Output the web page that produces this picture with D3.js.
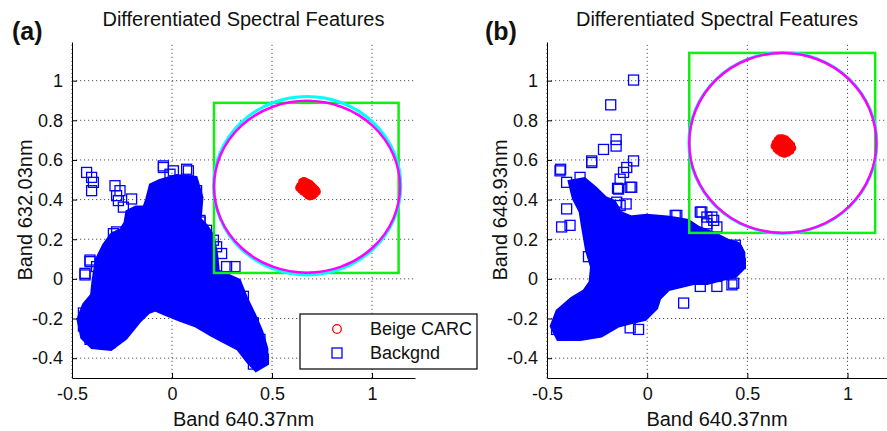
<!DOCTYPE html>
<html>
<head>
<meta charset="utf-8">
<script src="https://cdnjs.cloudflare.com/ajax/libs/d3/7.8.5/d3.min.js"></script>
<style>
body{margin:0;background:#fff;}
svg text{font-family:"Liberation Sans",Arial,Helvetica,sans-serif;fill:#111;}
</style>
</head>
<body>
<svg id="fig" width="887" height="431"></svg>
<script>

//================= data =====================//
var xTicks = [-0.5, 0, 0.5, 1];
var yTicks = [-0.4, -0.2, 0, 0.2, 0.4, 0.6, 0.8, 1];
var titleText = "Differentiated Spectral Features";
var xLabelText = "Band 640.37nm";
var yLabelA = "Band 632.03nm";
var yLabelB = "Band 648.93nm";
var legendNames = ["Beige CARC", "Backgnd"];

// dense background cloud outline (a), square centres
var bgCoreA = [[-0.06,0.478],[0.023,0.503],[0.107,0.495],[0.132,0.41],[0.123,0.295],[0.157,0.26],[0.19,0.21],
  [0.207,0.11],[0.215,0.028],[0.257,0.01],[0.323,-0.02],[0.357,-0.105],[0.398,-0.19],[0.432,-0.27],[0.457,-0.355],
  [0.457,-0.42],[0.423,-0.44],[0.39,-0.405],[0.34,-0.34],[0.273,-0.305],[0.207,-0.27],[0.123,-0.22],[0.04,-0.19],
  [-0.027,-0.163],[-0.085,-0.138],[-0.127,-0.155],[-0.177,-0.205],[-0.243,-0.288],[-0.31,-0.338],[-0.393,-0.33],
  [-0.435,-0.288],[-0.452,-0.205],[-0.427,-0.138],[-0.385,-0.088],[-0.377,-0.005],[-0.36,0.095],[-0.327,0.162],
  [-0.293,0.21],[-0.243,0.237],[-0.218,0.278],[-0.21,0.328],[-0.177,0.345],[-0.127,0.345],[-0.11,0.395],[-0.093,0.462]];

// single background squares (a)
var bgSquaresA = [[-0.427,0.537],[-0.402,0.512],[-0.393,0.487],[-0.402,0.445],[-0.285,0.47],[-0.26,0.445],
  [-0.277,0.42],[-0.268,0.395],[-0.243,0.362],[-0.202,0.403],[-0.043,0.57],[0.007,0.545],[0.082,0.545],
  [-0.435,0.028],[-0.41,0.087],[-0.277,0.21],[-0.26,0.18],[-0.285,0.13],[0.14,0.287],[0.148,0.245],[0.207,0.195],
  [-0.377,-0.072],[0.223,0.162],[0.248,0.128],[0.273,0.062],[0.315,0.062],[0.357,-0.088],[0.407,-0.222],
  [0.44,-0.305],[0.457,-0.405],[0.407,-0.43],[0.357,-0.238],[0.29,-0.272],[-0.41,-0.305],[-0.36,-0.313],
  [-0.31,-0.322],[-0.443,-0.238],[-0.443,-0.172],[-0.435,0.02],[-0.41,0.095],[-0.377,0.062],[-0.293,0.228],
  [-0.277,0.237],[-0.043,0.562],[0.073,0.553],[-0.01,0.528],[0.123,0.445],[0.14,0.295],[0.173,0.245],[0.19,0.128]];

// dense background cloud outline (b), square centres
var bgCoreB = [[-0.368,0.478],[-0.318,0.487],[-0.268,0.445],[-0.218,0.395],[-0.177,0.378],[-0.143,0.32],
  [-0.085,0.295],[-0.002,0.303],[0.098,0.295],[0.148,0.287],[0.198,0.278],[0.248,0.245],[0.332,0.212],
  [0.398,0.178],[0.448,0.162],[0.465,0.128],[0.465,0.062],[0.432,0.028],[0.365,0.012],[0.298,-0.005],
  [0.232,-0.005],[0.165,-0.022],[0.098,-0.038],[0.048,-0.088],[0.032,-0.138],[-0.018,-0.188],[-0.085,-0.205],
  [-0.152,-0.222],[-0.235,-0.272],[-0.335,-0.288],[-0.435,-0.288],[-0.46,-0.238],[-0.435,-0.172],[-0.368,-0.113],
  [-0.302,-0.072],[-0.268,-0.022],[-0.26,0.062],[-0.285,0.145],[-0.302,0.245],[-0.318,0.345],[-0.352,0.412]];

// single background squares (b)
var bgSquaresB = [[-0.068,1.003],[-0.182,0.878],[-0.155,0.703],[-0.155,0.67],[-0.218,0.653],[-0.277,0.595],
  [-0.068,0.595],[-0.102,0.562],[-0.118,0.537],[-0.135,0.503],[-0.077,0.462],[-0.148,0.457],[-0.432,0.553],
  [-0.402,0.487],[-0.335,0.512],[-0.152,0.387],[-0.105,0.378],[-0.402,0.353],[-0.427,0.262],[-0.385,0.27],
  [-0.293,0.112],[0.14,0.32],[0.273,0.337],[0.323,0.312],[0.298,0.278],[0.44,0.17],[0.465,0.078],[0.348,-0.038],
  [0.182,-0.122],[0.432,-0.022],[0.265,-0.038],[-0.085,-0.247],[-0.043,-0.255],[-0.435,0.545],[-0.277,0.587],
  [-0.452,-0.255],[-0.135,0.37],[-0.085,0.462],[-0.143,0.453],[0.148,0.32],[0.265,0.337],[0.298,0.312],
  [0.332,0.295],[0.348,0.262],[0.423,0.162],[0.423,-0.03]];

// Beige CARC points
var carcA = [[0.64,0.47],[0.65,0.49],[0.66,0.495],[0.67,0.49],[0.68,0.485],[0.69,0.48],[0.70,0.47],[0.71,0.46],
  [0.72,0.45],[0.725,0.44],[0.715,0.43],[0.705,0.42],[0.69,0.415],[0.68,0.42],[0.67,0.43],[0.655,0.44],[0.645,0.45],
  [0.635,0.46],[0.65,0.465],[0.66,0.46],[0.67,0.455],[0.68,0.45],[0.69,0.445],[0.70,0.44],[0.66,0.475],[0.675,0.47],
  [0.69,0.465],[0.705,0.455],[0.695,0.43],[0.715,0.445],[0.685,0.435],[0.665,0.445]];
var carcB = [[0.64,0.685],[0.65,0.7],[0.66,0.71],[0.675,0.71],[0.69,0.705],[0.70,0.695],[0.71,0.685],[0.72,0.675],
  [0.725,0.66],[0.715,0.645],[0.70,0.635],[0.685,0.63],[0.67,0.635],[0.655,0.645],[0.645,0.655],[0.635,0.67],
  [0.65,0.68],[0.66,0.675],[0.67,0.67],[0.68,0.665],[0.69,0.66],[0.70,0.655],[0.66,0.69],[0.675,0.69],[0.69,0.685],
  [0.705,0.675],[0.695,0.645],[0.68,0.65],[0.665,0.655],[0.71,0.665]];

// decision boxes [x0, y0, x1, y1] and circles [cx, cy, rx, ry]
var boxA = [0.21, 0.03, 1.133, 0.888];
var boxB = [0.21, 0.232, 1.138, 1.14];
var cyanA = [0.676, 0.47, 0.468, 0.45];
var circA = [0.675, 0.465, 0.465, 0.434];
var cyanB = [0.677, 0.686, 0.469, 0.456];
var circB = [0.677, 0.686, 0.467, 0.454];

var svg = d3.select("#fig");

function drawPanel(opt){

  var x = d3.scaleLinear().domain([-0.5, opt.xMax]).range([opt.left, opt.right]);
  var y = d3.scaleLinear().domain([-0.5, 1.195]).range([378, 42]);
  var g = svg.append("g");

  //================= grid
  g.append("g").selectAll("line").data(yTicks).enter().append("line")
    .attr("x1", opt.left).attr("x2", opt.right)
    .attr("y1", function(d){ return y(d); }).attr("y2", function(d){ return y(d); })
    .attr("stroke", "#555").attr("stroke-dasharray", "1.2,2.8");
  g.append("g").selectAll("line").data(xTicks).enter().append("line")
    .attr("y1", 378).attr("y2", 42)
    .attr("x1", function(d){ return x(d); }).attr("x2", function(d){ return x(d); })
    .attr("stroke", "#555").attr("stroke-dasharray", "1.2,2.8");

  //================= background cloud (thick stroke = half a marker around the centres)
  g.append("path")
    .attr("d", d3.line().x(function(d){ return x(d[0]); }).y(function(d){ return y(d[1]); })(opt.core) + "Z")
    .attr("fill", "#0000ff").attr("stroke", "#0000ff").attr("stroke-width", 10)
    .attr("stroke-linejoin", "miter").attr("stroke-miterlimit", 2);

  g.append("g").selectAll("rect").data(opt.squares).enter().append("rect")
    .attr("x", function(d){ return x(d[0]) - 5; })
    .attr("y", function(d){ return y(d[1]) - 5; })
    .attr("width", 10).attr("height", 10)
    .attr("fill", "none").attr("stroke", "#0000ff").attr("stroke-width", 1.3);

  //================= box + circles
  g.append("rect")
    .attr("x", x(opt.box[0])).attr("y", y(opt.box[3]))
    .attr("width", x(opt.box[2]) - x(opt.box[0]))
    .attr("height", y(opt.box[1]) - y(opt.box[3]))
    .attr("fill", "none").attr("stroke", "#11ee11").attr("stroke-width", 2.5);

  [[opt.cyan, "#00ffff", 3], [opt.circ, "#ff00ff", 2.5]].forEach(function(c){
    g.append("ellipse")
      .attr("cx", x(c[0][0])).attr("cy", y(c[0][1]))
      .attr("rx", x(c[0][0] + c[0][2]) - x(c[0][0]))
      .attr("ry", y(c[0][1]) - y(c[0][1] + c[0][3]))
      .attr("fill", "none").attr("stroke", c[1]).attr("stroke-width", c[2]);
  });

  g.append("g").selectAll("circle").data(opt.carc).enter().append("circle")
    .attr("cx", function(d){ return x(d[0]); })
    .attr("cy", function(d){ return y(d[1]); })
    .attr("r", 3.2)
    .attr("fill", "#ff0000").attr("stroke", "#ff0000").attr("stroke-width", 1.2);

  //================= axes
  g.append("g").attr("transform", "translate(0,378)")
    .call(d3.axisBottom(x).tickValues(xTicks).tickSizeInner(-5).tickSizeOuter(0).tickPadding(9)
      .tickFormat(function(d){ return d3.format("")(d).replace("−", "-"); }))
    .call(function(a){
      a.select(".domain").attr("stroke", "#000");
      a.selectAll("text").attr("font-size", 18).attr("fill", "#111").attr("font-family", null);
    });
  g.append("g").attr("transform", "translate(" + opt.left + ",0)")
    .call(d3.axisLeft(y).tickValues(yTicks).tickSizeInner(-5).tickSizeOuter(0).tickPadding(9)
      .tickFormat(function(d){ return d3.format("")(d).replace("−", "-"); }))
    .call(function(a){
      a.select(".domain").attr("stroke", "#000");
      a.selectAll("text").attr("font-size", 18).attr("fill", "#111").attr("font-family", null);
    });

  //================= texts
  g.append("text").attr("x", (opt.left + opt.right) / 2).attr("y", 26)
    .attr("text-anchor", "middle").attr("font-size", 20).text(titleText);
  g.append("text").attr("x", (opt.left + opt.right) / 2).attr("y", 426)
    .attr("text-anchor", "middle").attr("font-size", 20).text(xLabelText);
  g.append("text").attr("transform", "translate(" + (opt.left - 40) + ",210) rotate(-90)")
    .attr("text-anchor", "middle").attr("font-size", 20).text(opt.ylabel);
  g.append("text").attr("x", opt.tagX).attr("y", 40)
    .attr("font-size", 25).attr("font-weight", "bold").text(opt.tag);
}

drawPanel({left: 72, right: 415, xMax: 1.215, core: bgCoreA, squares: bgSquaresA, carc: carcA,
  box: boxA, cyan: cyanA, circ: circA, ylabel: yLabelA, tag: "(a)", tagX: 12});
drawPanel({left: 547, right: 887, xMax: 1.197, core: bgCoreB, squares: bgSquaresB, carc: carcB,
  box: boxB, cyan: cyanB, circ: circB, ylabel: yLabelB, tag: "(b)", tagX: 485});

//////////
// LEGEND //
//////////
var leg = svg.append("g");
leg.append("rect").attr("x", 300).attr("y", 314).attr("width", 177).attr("height", 55)
  .attr("fill", "#fff").attr("stroke", "#000").attr("stroke-width", 1.2);
leg.append("circle").attr("cx", 337).attr("cy", 329).attr("r", 4.3)
  .attr("fill", "none").attr("stroke", "#ff0000").attr("stroke-width", 1.3);
leg.append("rect").attr("x", 332).attr("y", 348).attr("width", 10).attr("height", 10)
  .attr("fill", "none").attr("stroke", "#0000ff").attr("stroke-width", 1.3);
leg.selectAll("text.lg").data(legendNames).enter().append("text").attr("class", "lg")
  .attr("x", 370).attr("y", function(d, i){ return 335 + i * 24; })
  .attr("font-size", 18).text(function(d){ return d; });

</script>
</body>
</html>
